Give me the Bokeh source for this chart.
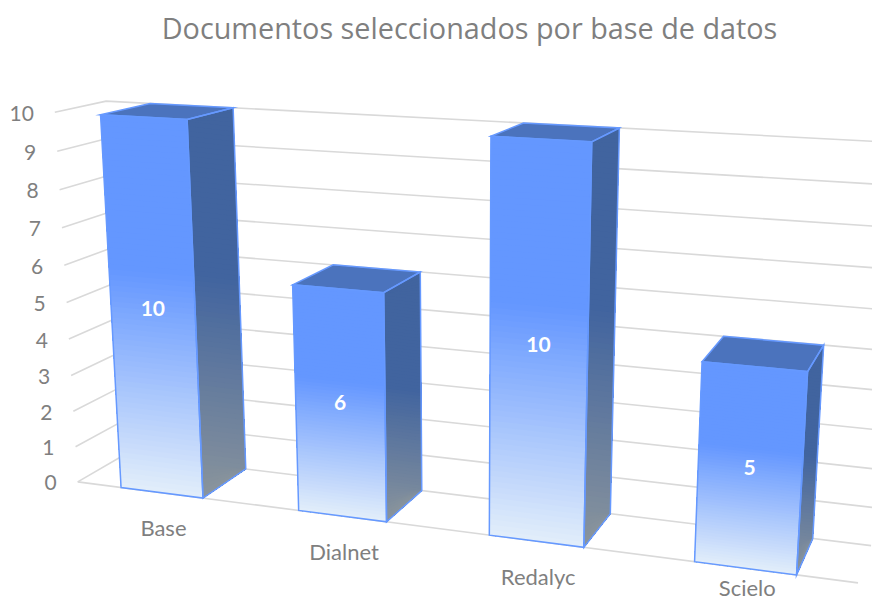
from bokeh.plotting import figure
from bokeh.core.properties import value as fixed
from bokeh.embed import file_html
from bokeh.resources import INLINE
import numpy as np

title_text = "Documentos seleccionados por base de datos"
categories = ["Base", "Dialnet", "Redalyc", "Scielo"]
values = [10, 6, 10, 5]
ticks = [0, 1, 2, 3, 4, 5, 6, 7, 8, 9, 10]

# 3D camera: box corner (along, height/10, depth) -> screen position
CAMERA = [
    ((0, 0, 0), (77, 481)), ((1, 0, 0), (856, 581.5)),
    ((0, 0, 1), (125, 454)), ((1, 0, 1), (872, 546)),
    ((0, 1, 0), (54, 112.5)), ((1, 1, 0), (887, 158)),
    ((0, 1, 1), (106, 100)), ((1, 1, 1), (895, 141.5)),
]
rows = []
for (X, Y, Z), (x, y) in CAMERA:
    x, y = x / 1000, y / 1000
    rows.append([X, Y, Z, 1, 0, 0, 0, 0, -x * X, -x * Y, -x * Z, -x])
    rows.append([0, 0, 0, 0, X, Y, Z, 1, -y * X, -y * Y, -y * Z, -y])
P = np.linalg.svd(np.array(rows, float))[2][-1].reshape(3, 4)


def proj(u, v, d):
    h = P @ np.array([u, v / 10, d, 1.0])
    return h[0] / h[2] * 1000, h[1] / h[2] * 1000


BAR, NUDGE = 0.47, -0.0025
FRONT_TOP, FRONT_BOT = np.array((0x64, 0x97, 0xFF)), np.array((0xE3, 0xEE, 0xFA))
SIDE_TOP, SIDE_BOT = np.array((0x41, 0x64, 0x9F)), np.array((0x8B, 0x95, 0x9C))
TOP_FILL, EDGE, GRID, TEXT = "#4B73BD", "#6699FF", "#D9D9D9", "#7F7F7F"
HOLD, TILT, STRIPS = 0.40, 0.12, 70


def shade(a, b, t):
    k = min(max((t - HOLD) / (1 - HOLD), 0), 1)
    c = a + (b - a) * k
    return "#%02x%02x%02x" % tuple(int(round(q)) for q in c)


def edge(a, b, Y):
    s = min(max((Y - a[1]) / (b[1] - a[1]), 0), 1)
    return a[0] + (b[0] - a[0]) * s, a[1] + (b[1] - a[1]) * s


p = figure(width=872, height=603, x_range=(0, 872), y_range=(603, 0), min_border=0,
           toolbar_location=None, output_backend="svg")
p.axis.visible = False
p.grid.visible = False
p.outline_line_color = None
p.background_fill_color = "white"
p.border_fill_color = "white"

# gridlines on the left wall and back wall, then the floor front
gx, gy = [], []
for t in ticks:
    a, b, c = proj(0, t, 0), proj(0, t, 1), proj(1, t, 1)
    gx.append([a[0], b[0], c[0]])
    gy.append([a[1], b[1], c[1]])
a, b = proj(0, 0, 0), proj(1, 0, 0)
gx.append([a[0], b[0]])
gy.append([a[1], b[1]])
p.multi_line(gx, gy, line_color=GRID, line_width=1.6)

# bars: each gradient strip runs down to the floor, so no seams show
xs, ys, cs = [], [], []
ox, oy, tx, ty, tc = [], [], [], [], []
n_cat = len(values)
for i, val in enumerate(values):
    u0 = (i + 0.5 - BAR / 2) / n_cat + NUDGE
    u1 = (i + 0.5 + BAR / 2) / n_cat + NUDGE
    for k in range(STRIPS):
        v_hi = val * (1 - k / STRIPS)
        q = [proj(u0, v_hi, 0), proj(u1, v_hi, 0), proj(u1, 0, 0), proj(u0, 0, 0)]
        xs.append([c[0] for c in q])
        ys.append([c[1] for c in q])
        cs.append(shade(FRONT_TOP, FRONT_BOT, (k + 0.5) / STRIPS))
    ft, fb = proj(u1, val, 0), proj(u1, 0, 0)
    bt, bb = proj(u1, val, 1), proj(u1, 0, 1)
    dy = TILT * (bt[0] - ft[0])
    span = fb[1] - ft[1]
    y_start = min(ft[1], bt[1] - dy) - 1
    y_end = fb[1] + 1
    n = STRIPS + 10
    for k in range(n):
        Y0 = y_start + (y_end - y_start) * k / n
        q = [edge(ft, fb, Y0), edge(bt, bb, Y0 + dy), bb, fb]
        xs.append([c[0] for c in q])
        ys.append([c[1] for c in q])
        cs.append(shade(SIDE_TOP, SIDE_BOT, (Y0 - ft[1]) / span))
    for corners in (
        [(u0, val, 0), (u1, val, 0), (u1, 0, 0), (u0, 0, 0)],
        [(u1, val, 0), (u1, val, 1), (u1, 0, 1), (u1, 0, 0)],
        [(u0, val, 0), (u0, val, 1), (u1, val, 1), (u1, val, 0)],
    ):
        q = [proj(*c) for c in corners]
        ox.append([c[0] for c in q])
        oy.append([c[1] for c in q])
    lab = proj((i + 0.5) / n_cat + NUDGE, val / 2, 0)
    tx.append(lab[0])
    ty.append(lab[1] - 2)
    tc.append(str(val))

p.patches(xs, ys, fill_color=cs, line_color=None)
p.patches(ox[2::3], oy[2::3], fill_color=TOP_FILL, line_color=None)
p.patches(ox, oy, fill_color=None, line_color=EDGE, line_width=1.5, line_join="miter")

# data labels
p.text(tx, ty, text=tc, text_color="white", text_font=fixed("Lato"), text_font_style="bold",
       text_font_size="21px", text_align="center", text_baseline="middle")

# value axis labels
vx = [proj(0, t, 0)[0] - 21 for t in ticks]
vy = [proj(0, t, 0)[1] + 1 for t in ticks]
p.text(vx, vy, text=[str(t) for t in ticks], text_color=TEXT, text_font=fixed("Lato"),
       text_font_size="21px", text_align="right", text_baseline="middle")

# category labels
cen = [proj((i + 0.5) / n_cat, 0, 0) for i in range(n_cat)]
cx = [c[0] for c in cen]
cy = [min(c[1] + 35, 587) for c in cen]
p.text(cx, cy, text=categories, text_color=TEXT, text_font=fixed("Lato"),
       text_font_size="22px", text_align="center", text_baseline="middle")

# title
p.text([469], [27], text=[title_text], text_color=TEXT, text_font=fixed("Open Sans"),
       text_font_size="28.8px", text_align="center", text_baseline="middle")

open("out.html", "w").write(file_html(p, INLINE))
